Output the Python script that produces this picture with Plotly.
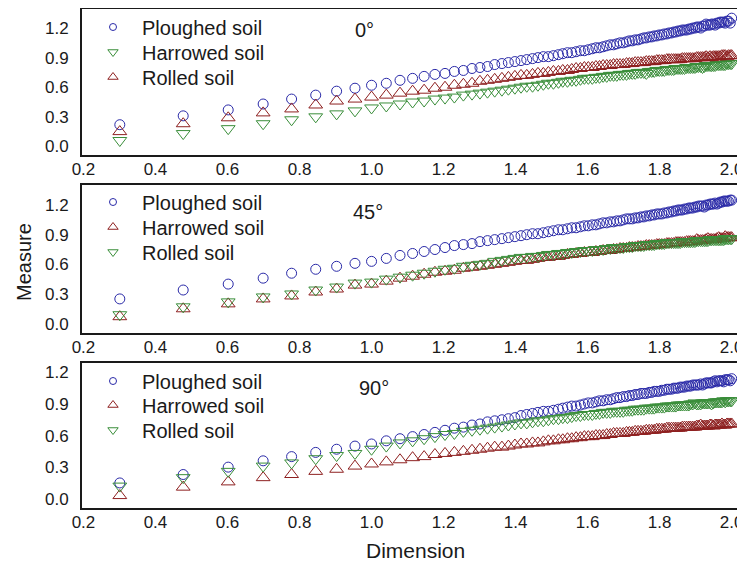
import plotly.graph_objects as go

# ---------------- data ----------------
dimension = [0.301, 0.477, 0.602, 0.699, 0.778, 0.845, 0.903, 0.954, 1.000,
             1.041, 1.079, 1.114, 1.146, 1.176, 1.204, 1.230, 1.255, 1.279, 1.301,
             1.322, 1.342, 1.362, 1.380, 1.398, 1.415, 1.431, 1.447, 1.462, 1.477,
             1.491, 1.505, 1.519, 1.531, 1.544, 1.556, 1.568, 1.580, 1.591, 1.602,
             1.613, 1.623, 1.633, 1.643, 1.653, 1.663, 1.672, 1.681, 1.690, 1.699,
             1.708, 1.716, 1.724, 1.732, 1.740, 1.748, 1.756, 1.763, 1.771, 1.778,
             1.785, 1.792, 1.799, 1.806, 1.813, 1.820, 1.826, 1.833, 1.839, 1.845,
             1.851, 1.857, 1.863, 1.869, 1.875, 1.881, 1.886, 1.892, 1.898, 1.903,
             1.908, 1.914, 1.919, 1.924, 1.929, 1.934, 1.940, 1.944, 1.949, 1.954,
             1.959, 1.964, 1.968, 1.973, 1.978, 1.982, 1.987, 1.991, 1.996, 2.000]

# 0 degrees
ploughed_0 = [0.22, 0.31, 0.37, 0.43, 0.48, 0.52, 0.56, 0.59, 0.62,
              0.64, 0.67, 0.69, 0.71, 0.73, 0.74, 0.76, 0.77, 0.79, 0.80,
              0.81, 0.83, 0.84, 0.85, 0.86, 0.87, 0.88, 0.89, 0.90, 0.91,
              0.91, 0.92, 0.93, 0.94, 0.95, 0.95, 0.96, 0.97, 0.97, 0.98,
              0.99, 1.00, 1.00, 1.01, 1.02, 1.03, 1.03, 1.04, 1.05, 1.05,
              1.06, 1.07, 1.07, 1.08, 1.08, 1.09, 1.10, 1.10, 1.11, 1.11,
              1.12, 1.12, 1.13, 1.13, 1.14, 1.14, 1.15, 1.15, 1.16, 1.16,
              1.17, 1.17, 1.18, 1.18, 1.18, 1.19, 1.19, 1.20, 1.20, 1.21,
              1.21, 1.20, 1.22, 1.22, 1.24, 1.23, 1.23, 1.24, 1.24, 1.23,
              1.25, 1.25, 1.26, 1.26, 1.26, 1.25, 1.27, 1.27, 1.25, 1.30]
harrowed_0 = [0.06, 0.13, 0.18, 0.23, 0.27, 0.30, 0.33, 0.36, 0.39,
              0.41, 0.43, 0.45, 0.46, 0.48, 0.49, 0.50, 0.52, 0.53, 0.54,
              0.55, 0.56, 0.57, 0.58, 0.59, 0.60, 0.61, 0.61, 0.62, 0.63,
              0.64, 0.64, 0.65, 0.66, 0.66, 0.67, 0.67, 0.68, 0.69, 0.69,
              0.69, 0.70, 0.70, 0.71, 0.71, 0.72, 0.72, 0.72, 0.73, 0.73,
              0.73, 0.74, 0.74, 0.74, 0.75, 0.75, 0.75, 0.74, 0.76, 0.76,
              0.76, 0.77, 0.77, 0.77, 0.77, 0.78, 0.78, 0.78, 0.78, 0.79,
              0.79, 0.79, 0.79, 0.79, 0.80, 0.80, 0.80, 0.80, 0.80, 0.81,
              0.81, 0.81, 0.80, 0.81, 0.82, 0.82, 0.82, 0.82, 0.82, 0.82,
              0.83, 0.83, 0.83, 0.83, 0.83, 0.83, 0.84, 0.84, 0.84, 0.84]
rolled_0 = [0.15, 0.23, 0.29, 0.34, 0.38, 0.42, 0.46, 0.48, 0.50,
            0.52, 0.54, 0.56, 0.57, 0.59, 0.60, 0.62, 0.63, 0.64, 0.66,
            0.67, 0.68, 0.69, 0.70, 0.71, 0.72, 0.72, 0.73, 0.74, 0.74,
            0.75, 0.76, 0.76, 0.77, 0.77, 0.78, 0.79, 0.79, 0.80, 0.80,
            0.80, 0.81, 0.81, 0.82, 0.82, 0.82, 0.83, 0.83, 0.83, 0.83,
            0.84, 0.84, 0.84, 0.85, 0.85, 0.85, 0.85, 0.86, 0.86, 0.86,
            0.86, 0.87, 0.87, 0.87, 0.87, 0.88, 0.88, 0.88, 0.88, 0.88,
            0.88, 0.88, 0.89, 0.89, 0.89, 0.89, 0.89, 0.89, 0.89, 0.90,
            0.90, 0.90, 0.90, 0.90, 0.91, 0.90, 0.91, 0.90, 0.91, 0.91,
            0.91, 0.91, 0.91, 0.92, 0.92, 0.92, 0.91, 0.92, 0.92, 0.92]

# 45 degrees
ploughed_45 = [0.25, 0.34, 0.40, 0.46, 0.51, 0.55, 0.58, 0.61, 0.63,
               0.66, 0.69, 0.71, 0.73, 0.75, 0.77, 0.79, 0.80, 0.81, 0.83,
               0.84, 0.85, 0.86, 0.87, 0.88, 0.89, 0.90, 0.91, 0.91, 0.92,
               0.93, 0.94, 0.95, 0.95, 0.96, 0.97, 0.97, 0.98, 0.99, 0.99,
               1.00, 1.00, 1.01, 1.02, 1.02, 1.03, 1.03, 1.04, 1.04, 1.05,
               1.06, 1.06, 1.06, 1.07, 1.07, 1.08, 1.08, 1.09, 1.09, 1.10,
               1.10, 1.11, 1.11, 1.11, 1.12, 1.12, 1.13, 1.13, 1.14, 1.14,
               1.15, 1.15, 1.15, 1.16, 1.16, 1.17, 1.17, 1.17, 1.18, 1.18,
               1.19, 1.19, 1.19, 1.18, 1.20, 1.20, 1.21, 1.21, 1.21, 1.22,
               1.21, 1.22, 1.23, 1.23, 1.24, 1.24, 1.24, 1.24, 1.25, 1.25]
harrowed_45 = [0.07, 0.15, 0.20, 0.25, 0.28, 0.32, 0.35, 0.39, 0.40,
               0.43, 0.46, 0.48, 0.50, 0.52, 0.53, 0.54, 0.56, 0.57, 0.58,
               0.59, 0.60, 0.61, 0.62, 0.63, 0.64, 0.64, 0.65, 0.66, 0.67,
               0.67, 0.68, 0.68, 0.69, 0.70, 0.70, 0.71, 0.71, 0.72, 0.72,
               0.72, 0.73, 0.73, 0.74, 0.74, 0.74, 0.75, 0.75, 0.76, 0.76,
               0.76, 0.77, 0.77, 0.77, 0.78, 0.78, 0.78, 0.79, 0.79, 0.79,
               0.79, 0.80, 0.80, 0.80, 0.80, 0.81, 0.81, 0.81, 0.81, 0.82,
               0.82, 0.82, 0.82, 0.82, 0.83, 0.83, 0.83, 0.83, 0.83, 0.85,
               0.84, 0.84, 0.84, 0.84, 0.85, 0.86, 0.85, 0.85, 0.85, 0.85,
               0.86, 0.87, 0.86, 0.86, 0.86, 0.88, 0.87, 0.87, 0.87, 0.87]
rolled_45 = [0.09, 0.17, 0.22, 0.27, 0.30, 0.34, 0.37, 0.41, 0.42,
             0.45, 0.47, 0.49, 0.51, 0.53, 0.55, 0.56, 0.58, 0.59, 0.60,
             0.61, 0.63, 0.64, 0.65, 0.66, 0.67, 0.67, 0.68, 0.68, 0.69,
             0.70, 0.70, 0.71, 0.71, 0.72, 0.72, 0.73, 0.73, 0.74, 0.74,
             0.74, 0.75, 0.75, 0.75, 0.76, 0.76, 0.77, 0.77, 0.77, 0.77,
             0.78, 0.78, 0.78, 0.79, 0.79, 0.79, 0.79, 0.80, 0.80, 0.80,
             0.80, 0.81, 0.81, 0.81, 0.81, 0.82, 0.82, 0.82, 0.82, 0.82,
             0.82, 0.82, 0.83, 0.83, 0.83, 0.83, 0.83, 0.83, 0.83, 0.84,
             0.84, 0.84, 0.84, 0.84, 0.84, 0.84, 0.85, 0.85, 0.85, 0.85,
             0.85, 0.85, 0.85, 0.85, 0.85, 0.86, 0.86, 0.86, 0.86, 0.86]

# 90 degrees
ploughed_90 = [0.15, 0.23, 0.30, 0.36, 0.40, 0.44, 0.47, 0.50, 0.52,
               0.55, 0.57, 0.59, 0.61, 0.63, 0.65, 0.67, 0.68, 0.70, 0.71,
               0.73, 0.74, 0.75, 0.76, 0.77, 0.79, 0.80, 0.81, 0.82, 0.83,
               0.83, 0.84, 0.85, 0.86, 0.87, 0.88, 0.88, 0.89, 0.90, 0.91,
               0.91, 0.92, 0.93, 0.93, 0.94, 0.94, 0.95, 0.96, 0.96, 0.97,
               0.97, 0.98, 0.98, 0.99, 0.99, 1.00, 1.00, 1.00, 1.01, 1.01,
               1.02, 1.02, 1.02, 1.03, 1.03, 1.04, 1.04, 1.04, 1.05, 1.05,
               1.05, 1.06, 1.06, 1.06, 1.07, 1.07, 1.07, 1.08, 1.08, 1.08,
               1.08, 1.09, 1.08, 1.09, 1.10, 1.10, 1.10, 1.10, 1.11, 1.12,
               1.11, 1.12, 1.12, 1.12, 1.11, 1.13, 1.13, 1.13, 1.12, 1.14]
harrowed_90 = [0.03, 0.11, 0.16, 0.20, 0.23, 0.26, 0.28, 0.31, 0.33,
               0.35, 0.37, 0.39, 0.40, 0.42, 0.43, 0.44, 0.45, 0.46, 0.47,
               0.48, 0.49, 0.49, 0.50, 0.51, 0.52, 0.52, 0.53, 0.53, 0.54,
               0.55, 0.55, 0.56, 0.56, 0.57, 0.57, 0.58, 0.58, 0.59, 0.59,
               0.59, 0.60, 0.60, 0.60, 0.61, 0.61, 0.62, 0.62, 0.62, 0.62,
               0.63, 0.63, 0.63, 0.64, 0.64, 0.64, 0.64, 0.65, 0.65, 0.65,
               0.65, 0.66, 0.66, 0.66, 0.66, 0.67, 0.67, 0.67, 0.67, 0.67,
               0.67, 0.67, 0.68, 0.68, 0.68, 0.68, 0.68, 0.68, 0.68, 0.69,
               0.69, 0.70, 0.69, 0.69, 0.69, 0.69, 0.70, 0.70, 0.69, 0.70,
               0.70, 0.70, 0.70, 0.71, 0.70, 0.70, 0.71, 0.71, 0.71, 0.71]
rolled_90 = [0.12, 0.20, 0.26, 0.31, 0.34, 0.38, 0.41, 0.43, 0.47,
             0.50, 0.53, 0.55, 0.57, 0.59, 0.61, 0.62, 0.64, 0.65, 0.66,
             0.67, 0.68, 0.69, 0.70, 0.71, 0.72, 0.72, 0.73, 0.74, 0.74,
             0.75, 0.76, 0.76, 0.77, 0.77, 0.78, 0.79, 0.79, 0.80, 0.80,
             0.80, 0.81, 0.81, 0.82, 0.82, 0.82, 0.83, 0.83, 0.83, 0.83,
             0.84, 0.84, 0.84, 0.85, 0.85, 0.85, 0.85, 0.86, 0.86, 0.86,
             0.86, 0.87, 0.87, 0.87, 0.87, 0.88, 0.88, 0.88, 0.88, 0.88,
             0.89, 0.89, 0.89, 0.89, 0.89, 0.89, 0.90, 0.90, 0.91, 0.90,
             0.90, 0.90, 0.91, 0.91, 0.91, 0.91, 0.91, 0.90, 0.91, 0.92,
             0.92, 0.92, 0.92, 0.92, 0.93, 0.92, 0.93, 0.93, 0.93, 0.93]

panel_labels = ["0\u00b0", "45\u00b0", "90\u00b0"]
x_ticks = [0.2, 0.4, 0.6, 0.8, 1.0, 1.2, 1.4, 1.6, 1.8, 2.0]
y_ticks = [0.0, 0.3, 0.6, 0.9, 1.2]

# ---------------- style ----------------
OFF = 8                      # page body margin of the html page
W, H = 745 - OFF, 563 - OFF  # figure fills the rest of the window
FONT = "Liberation Sans, Arial, sans-serif"
INK = "#1a1a1a"
BLUE = "#2a2aa8"
GREEN = "#3a8e3a"
RED = "#8e2020"
SYM = {"circle": "circle-open", "down": "triangle-down-open", "up": "triangle-up-open"}


def px(p):  # window pixel column -> figure fraction
    return (p - OFF) / W


def py(p):  # window pixel row -> figure fraction (bottom-up)
    return 1 - (p - OFF) / H


panels = [
    dict(top=9, bottom=155, yr=[-0.087, 1.393], label_xy=(364, 30), rows=[27, 52, 77],
         series=[("Ploughed soil", ploughed_0, BLUE, "circle"),
                 ("Harrowed soil", harrowed_0, GREEN, "down"),
                 ("Rolled soil", rolled_0, RED, "up")]),
    dict(top=185, bottom=333, yr=[-0.095, 1.403], label_xy=(368, 212), rows=[202, 227, 252],
         series=[("Ploughed soil", ploughed_45, BLUE, "circle"),
                 ("Harrowed soil", harrowed_45, RED, "up"),
                 ("Rolled soil", rolled_45, GREEN, "down")]),
    dict(top=363, bottom=508, yr=[-0.088, 1.289], label_xy=(374, 388), rows=[381, 405, 430],
         series=[("Ploughed soil", ploughed_90, BLUE, "circle"),
                 ("Harrowed soil", harrowed_90, RED, "up"),
                 ("Rolled soil", rolled_90, GREEN, "down")]),
]

fig = go.Figure()
layout = dict(
    width=W, height=H,
    margin=dict(l=0, r=0, t=0, b=0, autoexpand=False),
    paper_bgcolor="white", plot_bgcolor="white",
    font=dict(family=FONT, size=17, color=INK),
    showlegend=True,
    annotations=[],
)

legend_no = 0
for i, p in enumerate(panels):
    k = "" if i == 0 else str(i + 1)
    xa, ya = "x" + k, "y" + k
    for name, vals, col, sym in p["series"]:
        size = 10 if sym == "circle" else 12
        fig.add_trace(go.Scatter(
            x=dimension, y=vals, mode="markers", xaxis=xa, yaxis=ya,
            showlegend=False, name=name,
            marker=dict(symbol=SYM[sym], size=size, color=col, line=dict(width=1, color=col)),
        ))
    for (name, vals, col, sym), row in zip(p["series"], p["rows"]):
        legend_no += 1
        leg = "legend" if legend_no == 1 else "legend%d" % legend_no
        size = 7 if sym == "circle" else 9
        fig.add_trace(go.Scatter(
            x=[None], y=[None], mode="markers", xaxis=xa, yaxis=ya,
            showlegend=True, legend=leg, name=name,
            marker=dict(symbol=SYM[sym], size=size, color=col, line=dict(width=1, color=col)),
        ))
        layout[leg] = dict(x=px(84), y=py(row), xref="container", yref="container",
                           xanchor="left", yanchor="middle",
                           bgcolor="rgba(0,0,0,0)", borderwidth=0, itemwidth=48,
                           font=dict(family=FONT, size=20, color=INK))
    axis_common = dict(showline=True, linecolor=INK, linewidth=2, mirror=True,
                       showgrid=False, zeroline=False, ticks="",
                       tickfont=dict(family=FONT, size=17, color=INK))
    layout["xaxis" + k] = dict(domain=[px(82), 1.0], range=[0.196, 2.037], anchor=ya,
                               tickvals=x_ticks, tickformat=".1f", ticklabelstandoff=-2,
                               **axis_common)
    layout["yaxis" + k] = dict(domain=[py(p["bottom"]), py(p["top"])], range=p["yr"], anchor=xa,
                               tickvals=y_ticks, tickformat=".1f", ticklabelstandoff=8,
                               **axis_common)
    lx, ly = p["label_xy"]
    layout["annotations"].append(dict(
        text=panel_labels[i], x=px(lx), y=py(ly), xref="paper", yref="paper",
        showarrow=False, font=dict(family=FONT, size=20, color=INK),
        xanchor="center", yanchor="middle"))

layout["annotations"].append(dict(
    text="Measure", x=px(24), y=py(262), xref="paper", yref="paper", showarrow=False,
    textangle=-90, font=dict(family=FONT, size=20, color=INK),
    xanchor="center", yanchor="middle"))
layout["annotations"].append(dict(
    text="Dimension", x=px(415), y=py(550), xref="paper", yref="paper", showarrow=False,
    font=dict(family=FONT, size=21, color=INK), xanchor="center", yanchor="middle"))

fig.update_layout(**layout)
fig.write_html("out.html")
